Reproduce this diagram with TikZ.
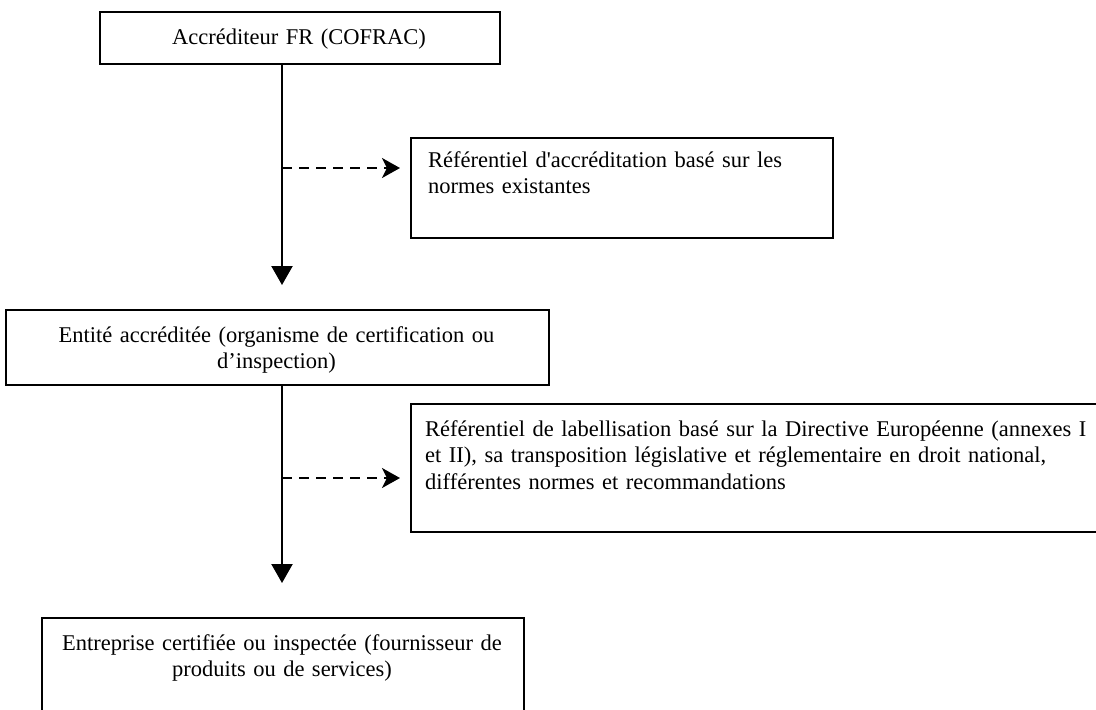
\documentclass[tikz,border=0pt]{standalone}
\usepackage{fontspec}
\setmainfont{Liberation Serif}[Ligatures=TeXOff]
\usetikzlibrary{arrows.meta,positioning}

\begin{document}
\begin{tikzpicture}[x=1pt, y=-1pt,
    cadre/.style={draw, line width=2pt, inner sep=0pt, anchor=north west},
    txtc/.style={font=\fontsize{22.5}{26.5}\selectfont, inner sep=0pt, anchor=base, text width=#1, align=center},
    txtg/.style={font=\fontsize{22.5}{26.5}\selectfont, inner sep=0pt, anchor=base west, text width=#1, align=left},
    fleche/.style={line width=2.2pt, -{Triangle[width=21pt, length=19pt]}},
    renvoi/.style={line width=2.2pt, dash pattern=on 10pt off 7pt, shorten >=10pt,
      -{Stealth[width=20pt, length=18pt, inset=5pt]}}
  ]
  \useasboundingbox (0,0) rectangle (1096,710);
  % cadres
  \node[cadre, minimum width=400pt, minimum height=52pt] (accr) at (99,11) {};
  \node[cadre, minimum width=422pt, minimum height=100pt] (refaccr) at (410,137) {};
  \node[cadre, minimum width=543pt, minimum height=75pt] (entite) at (5,309) {};
  \node[cadre, minimum width=720pt, minimum height=128pt] (reflabel) at (410,403) {};
  \node[cadre, minimum width=482pt, minimum height=110pt] (entreprise) at (41,617) {};
  % textes
  \node[txtc=380pt] (accrtxt) at (299,44) {Accréditeur FR (COFRAC)};
  \node[txtg=400pt] (refaccrtxt) at (428,167)
    {Référentiel d'accréditation basé sur les\\normes existantes};
  \node[txtc=520pt] (entitetxt) at (276.5,342)
    {Entité accréditée (organisme de certification ou\\d’inspection)};
  \node[txtg=720pt] (reflabeltxt) at (425,436)
    {Référentiel de labellisation basé sur la Directive Européenne (annexes I\\
     et II), sa transposition législative et réglementaire en droit national,\\
     différentes normes et recommandations};
  \node[txtc=460pt] (entreprisetxt) at (282,650)
    {Entreprise certifiée ou inspectée (fournisseur de\\produits ou de services)};
  % liaisons
  \coordinate (tip1) at (282,285);
  \coordinate (tip2) at (282,583);
  \coordinate (br1) at (282,168);
  \coordinate (br2) at (282,478);
  \draw[fleche] (accr.south -| tip1) -- (tip1);
  \draw[fleche] (entite.south -| tip2) -- (tip2);
  \draw[renvoi] (br1) -- (refaccr.west |- br1);
  \draw[renvoi] (br2) -- (reflabel.west |- br2);
\end{tikzpicture}
\end{document}
